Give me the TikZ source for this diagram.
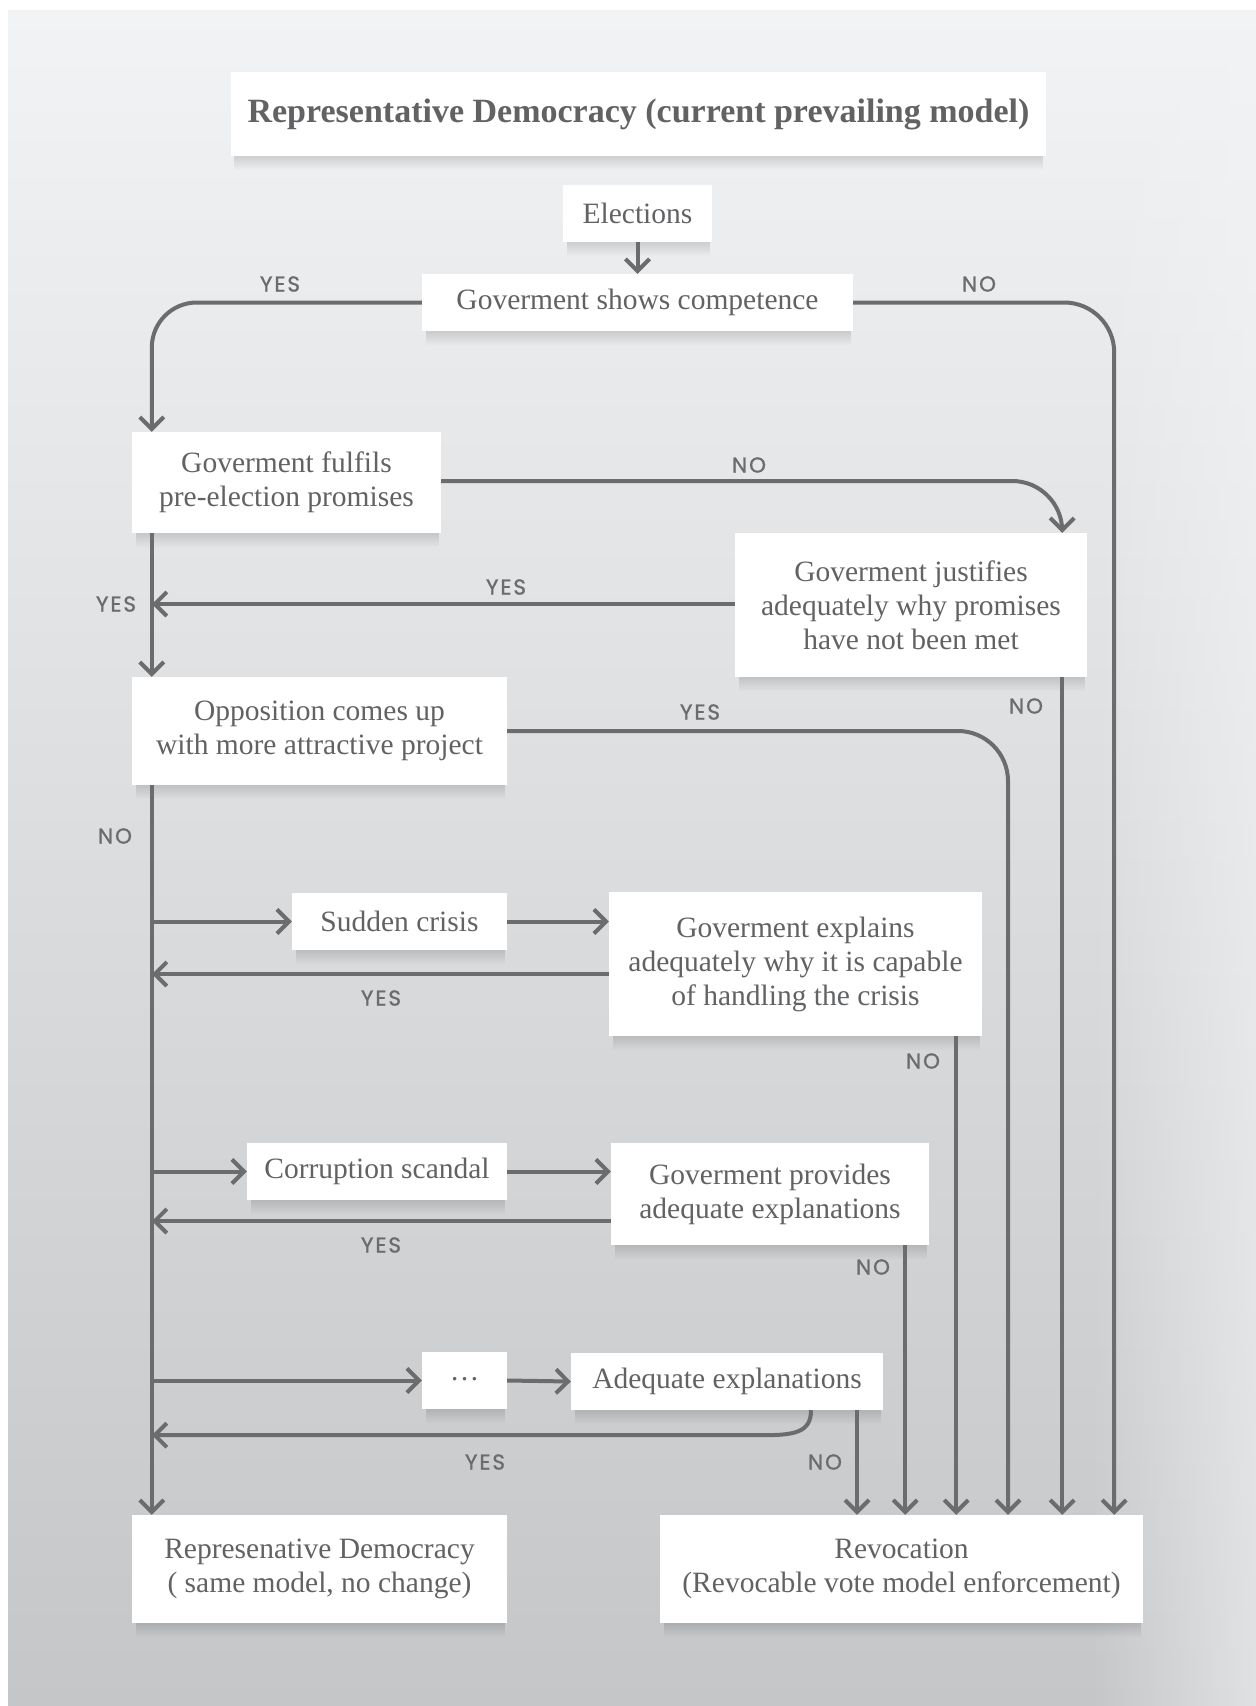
\documentclass[tikz,border=0pt]{standalone}
\usepackage{fontspec}
\setmainfont{Liberation Serif}
\newfontfamily\labfont[LetterSpace=9,FakeBold=1.2]{Poppins}
\usetikzlibrary{arrows.meta,calc,fadings,backgrounds}
\definecolor{linec}{HTML}{6B6C6E}
\definecolor{txtc}{HTML}{616264}
\definecolor{bgtop}{HTML}{F2F3F5}
\definecolor{bgmid}{HTML}{DCDDDF}
\definecolor{bgbot}{HTML}{C5C6C8}
\tikzfading[name=fadeR, left color=transparent!100, right color=transparent!0]
\tikzfading[name=fadeDown, top color=transparent!0, bottom color=transparent!100]
\tikzset{
  x=1pt, y=-1pt,
  box/.style={fill=white, inner sep=0pt, align=center, text=txtc,
    font=\fontsize{29.5}{34}\selectfont},
  conn/.style={draw=linec, line width=4pt},
  arr/.style={conn, -{Straight Barb[length=12pt,width=24pt]}},
  lab/.style={text=linec, font=\labfont\fontsize{21.5}{24}\selectfont, inner sep=0pt},
  shad/.style={fill=black, opacity=0.13, path fading=fadeDown}
}
\begin{document}
\begin{tikzpicture}
\useasboundingbox (0,0) rectangle (1256,1706);

% boxes
\node[box, minimum width=815pt, minimum height=84pt, font=\bfseries\fontsize{34}{38}\selectfont] (title) at (638.5,114) {Representative Democracy (current prevailing model)};
\node[box, minimum width=149pt, minimum height=57pt] (elec) at (637.5,213.5) {Elections};
\node[box, minimum width=431pt, minimum height=57pt] (comp) at (637.5,302.5) {Goverment shows competence};
\node[box, minimum width=309pt, minimum height=101pt] (fulf) at (286.5,482.5) {Goverment fulfils\\pre-election promises};
\node[box, minimum width=352pt, minimum height=144pt] (just) at (911,605) {Goverment justifies\\adequately why promises\\have not been met};
\node[box, minimum width=375pt, minimum height=108pt] (oppo) at (319.5,731) {Opposition comes up\\with more attractive project};
\node[box, minimum width=215pt, minimum height=57pt] (cris) at (399.5,921.5) {Sudden crisis};
\node[box, minimum width=373pt, minimum height=144pt] (expl) at (795.5,964) {Goverment explains\\adequately why it is capable\\of handling the crisis};
\node[box, minimum width=260pt, minimum height=57pt] (corr) at (377,1171.5) {Corruption scandal};
\node[box, minimum width=318pt, minimum height=102pt] (prov) at (770,1194) {Goverment provides\\adequate explanations};
\node[box, minimum width=85pt, minimum height=57pt] (dots) at (464.5,1380.5) {\raisebox{4pt}{…}};
\node[box, minimum width=312pt, minimum height=57pt] (adeq) at (727,1381.5) {Adequate explanations};
\node[box, minimum width=375pt, minimum height=108pt] (repr) at (319.5,1569) {Represenative Democracy\\( same model, no change)};
\node[box, minimum width=483pt, minimum height=108pt] (revo) at (901.5,1569) {Revocation\\(Revocable vote model enforcement)};

% background and soft shadows
\begin{scope}[on background layer]
\fill[white] (0,0) rectangle (1256,1706);
\shade[top color=bgtop, middle color=bgmid, bottom color=bgbot] (8,10) rectangle (1256,1706);
\fill[bgtop, path fading=fadeR, opacity=0.6] (1090,10) rectangle (1256,1706);
\foreach \n in {title,elec,comp,fulf,just,oppo,cris,expl,corr,prov,dots,adeq,repr,revo}
  \fill[shad] ($(\n.south west)+(4,0)$) rectangle ($(\n.south east)+(-2,14)$);
\end{scope}

% the left trunk
\coordinate (lx) at (152,0);
% connector anchor points on the boxes
\coordinate (jy) at ($(just.west)+(0,-1)$);
\coordinate (ey) at ($(expl.west)+(0,10)$);
\coordinate (py) at ($(prov.west)+(0,27)$);
\coordinate (jn) at ([xshift=-25pt]just.south east);
\coordinate (en) at ([xshift=-26pt]expl.south east);
\coordinate (pn) at ([xshift=-24pt]prov.south east);
\coordinate (ay) at ($(adeq.south)+(84,0)$);
\coordinate (an) at ($(adeq.south)+(130,0)$);
\coordinate (adc) at ($(adeq.south)+(36,25)$);

% connectors
\draw[arr] (elec) -- (comp);
\draw[arr, rounded corners=45pt] (comp.west) -| ([xshift=20pt]fulf.north west);
\draw[arr, rounded corners=50pt] (comp.east) -| ([xshift=-29pt]revo.north east);
\draw[arr, rounded corners=50pt] ([yshift=1.5pt]fulf.east) -| ([xshift=-25pt]just.north east);
\draw[arr] (jy) -- (jy -| lx);
\draw[arr] ([xshift=20pt]fulf.south west) -- ([xshift=20pt]oppo.north west);
\draw[arr, rounded corners=50pt] (oppo.east) -| ([xshift=106.5pt]revo.north);
\draw[arr] (jn) -- (jn |- revo.north);
\draw[arr] ([xshift=20pt]oppo.south west) -- ([xshift=20pt]repr.north west);
% crisis row
\draw[arr] (cris.west -| lx) -- (cris.west);
\draw[arr] (cris.east) -- (cris.east -| expl.west);
\draw[arr] (ey) -- (ey -| lx);
\draw[arr] (en) -- (en |- revo.north);
% corruption row
\draw[arr] (corr.west -| lx) -- (corr.west);
\draw[arr] (corr.east) -- (corr.east -| prov.west);
\draw[arr] (py) -- (py -| lx);
\draw[arr] (pn) -- (pn |- revo.north);
% dots row
\draw[arr] (dots.west -| lx) -- (dots.west);
\draw[arr] (dots.east) -- (adeq.west);
\draw[arr] (ay) .. controls +(0,22) and +(32,0) .. (adc) -- (adc -| lx);
\draw[arr] (an) -- (an |- revo.north);

% labels
\node[lab] (l1) at (280,284) {YES};
\node[lab] (l2) at (979,284) {NO};
\node[lab] (l3) at (749,465) {NO};
\node[lab] (l4) at (506,587) {YES};
\node[lab] (l5) at (116,604) {YES};
\node[lab] (l6) at (700,712) {YES};
\node[lab] (l7) at (1026,706) {NO};
\node[lab] (l8) at (115,836) {NO};
\node[lab] (l9) at (381,998) {YES};
\node[lab] (l10) at (923,1061) {NO};
\node[lab] (l11) at (381,1245) {YES};
\node[lab] (l12) at (873,1267) {NO};
\node[lab] (l13) at (485,1462) {YES};
\node[lab] (l14) at (825,1462) {NO};
\end{tikzpicture}
\end{document}
